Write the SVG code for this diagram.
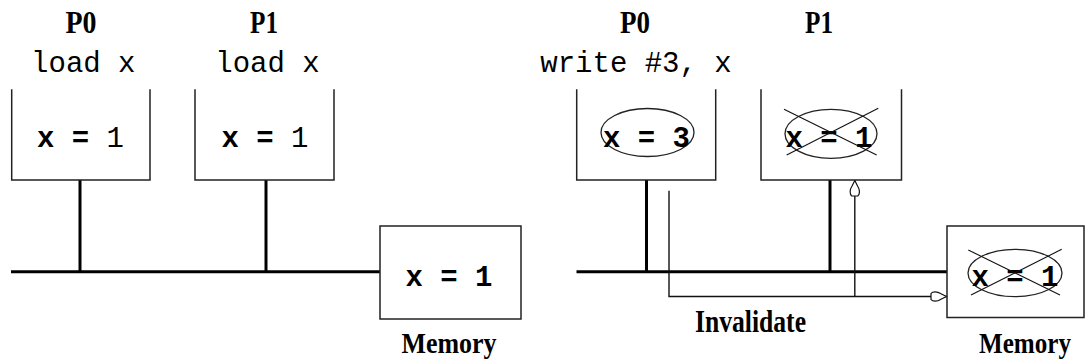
<svg xmlns="http://www.w3.org/2000/svg" width="1085" height="363" viewBox="0 0 1085 363">
  <style>
    .box { fill: none; stroke: #222; stroke-width: 1.5; }
    .bus { fill: none; stroke: #000; stroke-width: 3; }
    .thin { fill: none; stroke: #111; stroke-width: 1.4; }
    .ell { fill: none; stroke: #222; stroke-width: 1.3; }
    .cross { stroke: #111; stroke-width: 1.1; }
    .lbl { font-family: "Liberation Serif", "Times New Roman", serif; font-weight: bold; font-size: 31px; fill: #000; }
    .mem { font-family: "Liberation Serif", "Times New Roman", serif; font-weight: bold; font-size: 29px; fill: #000; }
    .mono { font-family: "Liberation Mono", "Courier New", monospace; font-size: 29px; fill: #000; }
    .val { font-family: "Liberation Mono", "Courier New", monospace; font-size: 29px; font-weight: bold; fill: #000; }
  </style>
  <defs>
    <marker id="drop" markerUnits="userSpaceOnUse" viewBox="0 0 18 11" markerWidth="18" markerHeight="11" refX="17" refY="5.5" orient="auto">
      <path d="M17,5.5 L11,2.5 C8,0.3 3,0.3 1.5,2.5 L1.5,8.5 C3,10.7 8,10.7 11,8.5 Z" fill="#fff" stroke="#111" stroke-width="1.2"/>
    </marker>
  </defs>
  <rect width="1085" height="363" fill="#fff"/>

  <g id="connectors">
    <line class="bus" x1="11" y1="271.7" x2="380" y2="271.7"/>
    <line class="bus" x1="80" y1="180" x2="80" y2="271.7"/>
    <line class="bus" x1="266" y1="180" x2="266" y2="271.7"/>
    <line class="bus" x1="576.5" y1="271.7" x2="947" y2="271.7"/>
    <line class="bus" x1="646.5" y1="180" x2="646.5" y2="271.7"/>
    <line class="bus" x1="830" y1="180" x2="830" y2="271.7"/>
    <path class="thin" d="M669,190.7 V296.5 H946.5" marker-end="url(#drop)"/>
    <path class="thin" d="M854.8,296.5 V180.5" marker-end="url(#drop)"/>
  </g>

  <g id="left-p0">
    <text class="lbl" x="81" y="33.3" text-anchor="middle" textLength="31" lengthAdjust="spacingAndGlyphs">P0</text>
    <text class="mono" x="83.3" y="71.5" text-anchor="middle">load x</text>
    <path class="box" d="M11.7,89.3 V180 H150 V89.3"/>
    <text class="val" x="80.5" y="146.7" text-anchor="middle">x = <tspan font-weight="normal">1</tspan></text>
  </g>

  <g id="left-p1">
    <text class="lbl" x="264" y="33.3" text-anchor="middle" textLength="28" lengthAdjust="spacingAndGlyphs">P1</text>
    <text class="mono" x="267.5" y="71.5" text-anchor="middle">load x</text>
    <path class="box" d="M195,89.3 V180 H334 V89.3"/>
    <text class="val" x="265" y="146.7" text-anchor="middle">x = <tspan font-weight="normal">1</tspan></text>
  </g>

  <g id="left-memory">
    <rect class="box" x="380" y="226" width="141" height="93"/>
    <text class="val" x="449" y="286" text-anchor="middle">x = 1</text>
    <text class="mem" x="449" y="353" text-anchor="middle" textLength="95" lengthAdjust="spacingAndGlyphs">Memory</text>
  </g>

  <g id="right-p0">
    <text class="lbl" x="635" y="33.3" text-anchor="middle" textLength="30" lengthAdjust="spacingAndGlyphs">P0</text>
    <text class="mono" x="636" y="71.5" text-anchor="middle">write #3, x</text>
    <path class="box" d="M576.7,89.3 V180 H715.7 V89.3"/>
    <ellipse class="ell" cx="647.5" cy="132.5" rx="46.5" ry="24"/>
    <text class="val" x="646.5" y="146.7" text-anchor="middle">x = 3</text>
  </g>

  <g id="right-p1">
    <text class="lbl" x="819" y="33.3" text-anchor="middle" textLength="28" lengthAdjust="spacingAndGlyphs">P1</text>
    <path class="box" d="M761,89.3 V180 H901.5 V89.3"/>
    <ellipse class="ell" cx="831" cy="133.8" rx="46" ry="24.5"/>
    <text class="val" x="829" y="146.7" text-anchor="middle">x = 1</text>
    <line class="cross" x1="784" y1="109.3" x2="876.7" y2="155"/>
    <line class="cross" x1="786.7" y1="155" x2="878.3" y2="108.3"/>
  </g>

  <g id="right-memory">
    <rect class="box" x="947" y="226" width="137" height="91.5"/>
    <ellipse class="ell" cx="1015" cy="273" rx="47" ry="23.7"/>
    <text class="val" x="1015" y="286" text-anchor="middle">x = 1</text>
    <line class="cross" x1="968.3" y1="250" x2="1060" y2="295"/>
    <line class="cross" x1="971" y1="295" x2="1061.7" y2="249.3"/>
    <text class="mem" x="1025" y="353" text-anchor="middle" textLength="92" lengthAdjust="spacingAndGlyphs">Memory</text>
  </g>

  <g id="invalidate-label">
    <text class="lbl" x="750.5" y="332.3" text-anchor="middle" textLength="111" lengthAdjust="spacingAndGlyphs">Invalidate</text>
  </g>
</svg>
